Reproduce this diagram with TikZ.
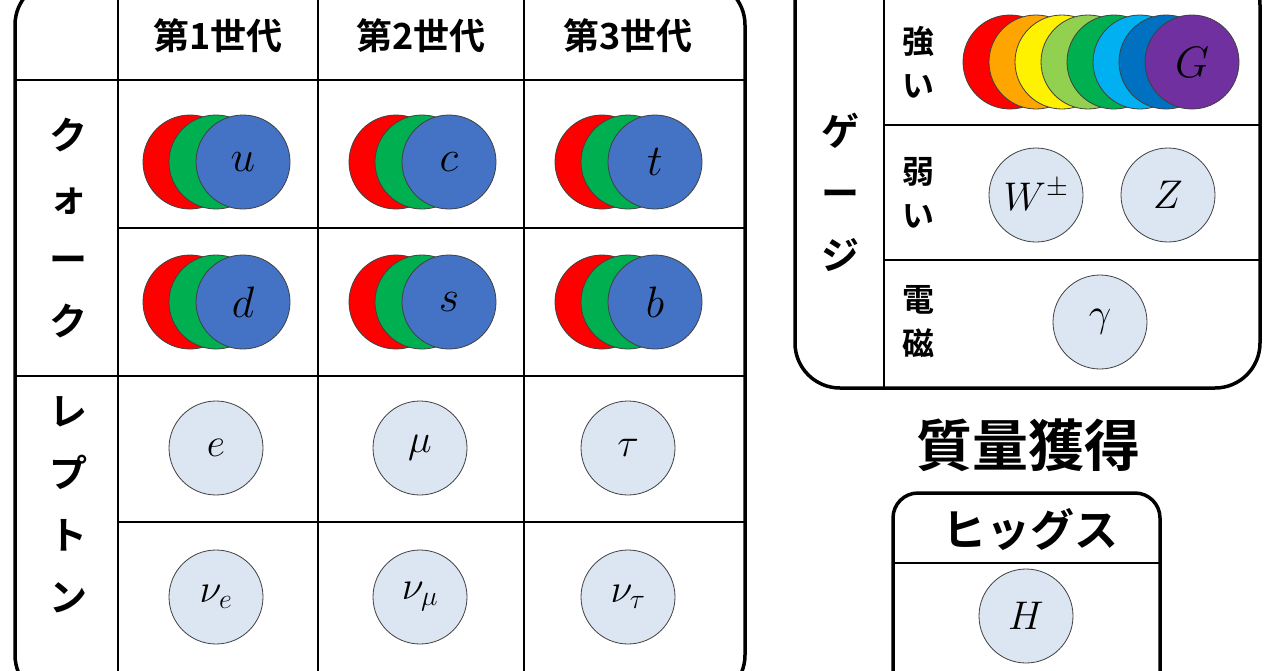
\RequirePackage{fix-cm}
\documentclass[tikz,border=0pt]{standalone}
\usepackage{fontspec}
\newfontfamily\cjk{Noto Sans CJK JP Bold}
\begin{document}
\begin{tikzpicture}[x=1pt,y=-1pt,
  box/.style={line width=3.5pt,rounded corners=45pt},
  grid/.style={line width=1.5pt},
  jp/.style={font=\cjk\fontsize{36}{40}\selectfont},
  jpv/.style={font=\cjk\fontsize{38}{62}\selectfont,align=center},
  jps/.style={align=center,font=\cjk\fontsize{32}{44}\selectfont},
  ball/.style={circle,minimum size=94pt,inner sep=0pt,draw=black!75,line width=0.8pt},
  lep/.style={ball,fill=lb,font=\fontsize{40}{40}\selectfont},
  q/.style={font=\fontsize{44}{44}\selectfont}]
\definecolor{lb}{HTML}{DCE6F2}
\definecolor{qb}{HTML}{4472C4}
\definecolor{qg}{HTML}{00B050}
\useasboundingbox (0,0) rectangle (1280,670);
\clip (0,0) rectangle (1280,670);
% left table
\draw[box] (15,-20) rectangle (745,700);
\draw[grid] (118,-20) -- (118,700) (318,-20) -- (318,700) (524,-20) -- (524,700);
\draw[grid] (15,80) -- (745,80) (118,228) -- (745,228) (15,376) -- (745,376) (118,522) -- (745,522);
\node[jp] (h1) at (218,36) {第1世代};
\node[jp] (h2) at (421,36) {第2世代};
\node[jp] (h3) at (628,36) {第3世代};
\node[jpv] (qk) at (68,228) {ク\\ォ\\ー\\ク};
\node[jpv] (lp) at (68,505) {レ\\プ\\ト\\ン};
\foreach \x/\y/\n/\l in {0/162/u/u,206/162/c/c,412/162/t/t,0/302/d/d,206/302/s/s,412/302/b/b}{
  \node[ball,fill=red] (r\n) at (190+\x,\y) {};
  \node[ball,fill=qg] (g\n) at (216+\x,\y) {};
  \node[ball,fill=qb,q] (b\n) at (243+\x,\y) {$\l$};
}
\node[lep] (e) at (216,448) {$e$};
\node[lep] (mu) at (420,448) {$\mu$};
\node[lep] (tau) at (628,448) {$\tau$};
\node[lep] (ne) at (216,597) {$\nu_e$};
\node[lep] (nm) at (420,597) {$\nu_\mu$};
\node[lep] (nt) at (628,597) {$\nu_\tau$};
% gauge box
\draw[box] (795,-40) rectangle (1260,388);
\draw[grid] (884,-40) -- (884,388) (884,125) -- (1260,125) (884,260) -- (1260,260);
\node[jpv] (gj) at (840,192) {ゲ\\ー\\ジ};
\node[jps] (st) at (918,62) {強\\い};
\node[jps] (wk) at (918,193) {弱\\い};
\node[jps] (em) at (918,322) {電\\磁};
\foreach \c [count=\i from 0] in {red,{rgb,255:red,255;green,165;blue,0},yellow,{rgb,255:red,146;green,208;blue,80},{rgb,255:red,0;green,176;blue,80},{rgb,255:red,0;green,176;blue,240},{rgb,255:red,0;green,112;blue,192}}{
  \node[ball,fill=\c] (rb\i) at (1010+26*\i,62) {};
}
\node[ball,fill={rgb,255:red,112;green,48;blue,160},q] (G) at (1192,62) {$G$};
\node[lep] (W) at (1036,195) {$W^{\pm}$};
\node[lep] (Z) at (1168,195) {$Z$};
\node[lep] (ga) at (1100,322) {$\gamma$};
% Higgs
\node[font=\cjk\fontsize{56}{56}\selectfont] (mass) at (1028,445) {質量獲得};
\draw[line width=3.5pt,rounded corners=25pt] (893,493) rectangle (1160,720);
\draw[grid] (893,563) -- (1160,563);
\node[font=\cjk\fontsize{44}{44}\selectfont] (hg) at (1030,530) {ヒッグス};
\node[lep] (H) at (1026,616) {$H$};
\end{tikzpicture}
\end{document}
